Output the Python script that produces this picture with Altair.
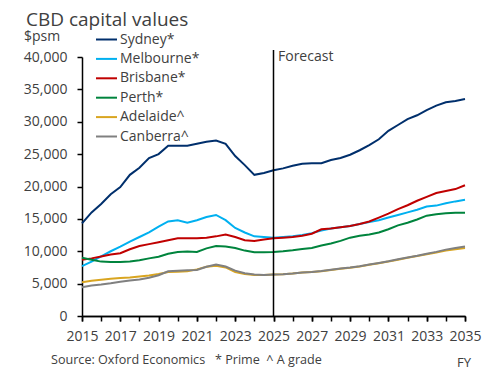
import altair as alt
import pandas as pd

years = [2015 + 0.5 * i for i in range(41)]

series_names = ["Sydney*", "Melbourne*", "Brisbane*", "Perth*", "Adelaide^", "Canberra^"]
colors = ["#002F6C", "#00B0F0", "#C00000", "#00843D", "#D9A520", "#808080"]

sydney = [14300, 16000, 17300, 18800, 19900, 21800, 22900, 24400, 25000, 26300,
          26300, 26300, 26600, 26900, 27100, 26600, 24700, 23300, 21800, 22100,
          22500, 22800, 23200, 23500, 23600, 23600, 24100, 24400, 24900, 25600,
          26400, 27300, 28600, 29500, 30400, 31000, 31800, 32500, 33000, 33200, 33500]
melbourne = [7700, 8400, 9200, 10000, 10700, 11500, 12200, 12900, 13800, 14600,
             14800, 14400, 14800, 15300, 15600, 14800, 13600, 12900, 12300, 12200,
             12100, 12200, 12300, 12500, 12800, 13200, 13500, 13700, 13900, 14200,
             14500, 14800, 15200, 15600, 16000, 16400, 16900, 17050, 17400, 17700, 17950]
brisbane = [8700, 8900, 9200, 9500, 9700, 10300, 10800, 11100, 11400, 11700,
            12000, 12000, 12000, 12100, 12300, 12600, 12200, 11700, 11600, 11800,
            12000, 12100, 12200, 12400, 12700, 13400, 13500, 13700, 13900, 14200,
            14600, 15200, 15800, 16500, 17100, 17800, 18400, 19000, 19300, 19600, 20200]
perth = [9000, 8700, 8400, 8350, 8350, 8400, 8600, 8900, 9150, 9600,
         9900, 9950, 9900, 10450, 10800, 10750, 10500, 10100, 9850, 9850,
         9900, 10000, 10150, 10350, 10500, 10900, 11200, 11600, 12100, 12400,
         12600, 12900, 13400, 14000, 14400, 14900, 15500, 15700, 15850, 15950, 15950]
adelaide = [5200, 5450, 5600, 5750, 5850, 5950, 6100, 6250, 6500, 6800,
            6850, 6900, 7200, 7600, 7750, 7500, 6800, 6500, 6350, 6350,
            6400, 6450, 6550, 6700, 6800, 6900, 7100, 7300, 7450, 7650,
            7900, 8150, 8400, 8700, 9000, 9250, 9550, 9800, 10100, 10300, 10500]
canberra = [4450, 4700, 4850, 5050, 5300, 5500, 5650, 5900, 6300, 6900,
            7000, 7050, 7100, 7600, 7950, 7650, 7000, 6600, 6400, 6350,
            6400, 6450, 6550, 6700, 6800, 6950, 7150, 7350, 7500, 7700,
            7950, 8200, 8450, 8750, 9050, 9300, 9600, 9900, 10250, 10500, 10750]

x_ticks = list(range(2015, 2036))
x_labels = list(range(2015, 2036, 2))
y_ticks = [0, 5000, 10000, 15000, 20000, 25000, 30000, 35000, 40000]
forecast_year = [2025]

all_series = [sydney, melbourne, brisbane, perth, adelaide, canberra]
rows = []
for name, vals in zip(series_names, all_series):
    for yr, v in zip(years, vals):
        rows.append({"series": name, "year": yr, "value": v, "k": series_names.index(name)})
df = pd.DataFrame(rows)

FONT = "Open Sans"
TXT = "#404040"
XSCALE = alt.Scale(domain=[2015, 2035], nice=False, zero=False)

lines = alt.Chart(df).mark_line(strokeWidth=2).encode(
    x=alt.X("year:Q", scale=XSCALE,
            axis=alt.Axis(values=x_labels, format="d", title=None, grid=False, orient="bottom",
                          domainColor="black", domainWidth=1.5, tickColor="black",
                          tickWidth=1.5, tickSize=5, labelPadding=8, labelFontSize=14,
                          labelColor=TXT, labelFont=FONT, labelFlush=False,
                          labelOverlap=False)),
    y=alt.Y("value:Q",
            scale=alt.Scale(domain=[0, 40000], nice=False),
            axis=alt.Axis(values=y_ticks, format=",.0f", title=None, grid=False,
                          domainColor="black", domainWidth=1.5, tickColor="black",
                          tickWidth=1.5, tickSize=5, labelPadding=10, labelFontSize=14,
                          labelColor=TXT, labelFont=FONT)),
    color=alt.Color("series:N",
                    scale=alt.Scale(domain=series_names, range=colors),
                    legend=alt.Legend(title=None, orient="none", legendX=13, legendY=-29,
                                      symbolType="stroke", symbolSize=441,
                                      symbolStrokeWidth=2, labelOffset=2,
                                      labelFontSize=14, labelFont=FONT, labelColor=TXT,
                                      rowPadding=0.4, padding=0)),
    order=alt.Order("k:Q"),
)

ticks = alt.Chart(pd.DataFrame({"year": x_ticks})).mark_point(opacity=0).encode(
    x=alt.X("year:Q", scale=XSCALE,
            axis=alt.Axis(values=x_ticks, labels=False, title=None, grid=False, orient="bottom",
                          domainColor="black", domainWidth=1.5, tickColor="black",
                          tickWidth=1.5, tickSize=5)),
)

rule = alt.Chart(pd.DataFrame({"year": forecast_year})).mark_rule(
    color="black", strokeWidth=1.5
).encode(x=alt.X("year:Q", scale=XSCALE, axis=None), y=alt.value(-7), y2=alt.value(259))


def label(text, x, y, size, align="left", baseline="alphabetic"):
    return alt.Chart(pd.DataFrame({"t": [text]})).mark_text(
        align=align, baseline=baseline, fontSize=size, font=FONT, color=TXT
    ).encode(x=alt.value(x), y=alt.value(y), text="t:N")


NB = "\u00a0"
title = label("CBD capital values", -56, -31, 19)
unit = label("$psm", -58, -16, 14)
fc = label("Forecast", 196, 0, 14, baseline="middle")
src = label("Source: Oxford Economics" + NB * 3 + "* Prime" + NB * 2 + "^ A grade",
            -31, 44 + 259, 12.6, baseline="middle")
fy = label("FY", 375, 47 + 259, 13, baseline="middle")

chart = alt.layer(lines, ticks, rule, title, unit, fc, src, fy).resolve_axis(
    x="independent"
).properties(
    width=383, height=259,
    autosize=alt.AutoSizeParams(type="none"),
    padding={"left": 74, "top": 49, "right": 27, "bottom": 55},
).configure_view(stroke=None)

chart.save("out.html", embed_options={"renderer": "svg", "actions": False})
